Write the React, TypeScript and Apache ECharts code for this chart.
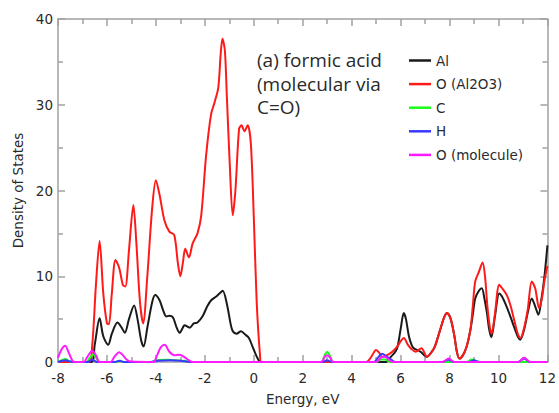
import React, { useEffect, useRef } from "react";
import * as echarts from "echarts";

const seriesNames = ["Al", "O (Al2O3)", "C", "H", "O (molecule)"];
const seriesColors = ["#1a1a1a", "#ff1a1a", "#1aff1a", "#3a3aff", "#ff1aff"];

const alPoints = [[-8,0],[-6.65,0],[-6.5,2],[-6.3,5.1],[-6.15,3],[-5.95,2.0],[-5.8,3.3],[-5.57,4.6],[-5.4,4.0],[-5.27,3.4],[-5.1,5],[-4.89,6.6],[-4.75,5],[-4.6,2.5],[-4.5,1.8],[-4.35,4],[-4.15,7],[-4.03,7.8],[-3.85,7.2],[-3.7,6],[-3.57,5.3],[-3.45,5.4],[-3.3,5.2],[-3.15,4],[-3.03,3.4],[-2.9,4.0],[-2.83,4.3],[-2.62,4.0],[-2.45,4.5],[-2.3,4.6],[-2.08,5.4],[-1.9,6.5],[-1.74,7.2],[-1.55,7.6],[-1.4,8.0],[-1.27,8.3],[-1.1,6.8],[-0.95,4.5],[-0.86,3.6],[-0.7,3.3],[-0.52,3.6],[-0.35,3.2],[-0.2,2.8],[-0.05,1.8],[0.08,0.9],[0.2,0.2],[0.25,0],[5.4,0],[5.6,0.6],[5.73,1.0],[5.86,1.6],[6.0,3.8],[6.13,5.7],[6.22,5],[6.34,3.0],[6.45,2.0],[6.54,1.6],[6.81,1.2],[7.08,0.6],[7.25,1.1],[7.4,1.8],[7.6,3.6],[7.78,5.2],[7.9,5.7],[8.05,5.0],[8.2,3.0],[8.3,1.2],[8.4,0.4],[8.55,0.8],[8.7,1.8],[8.85,3.7],[8.95,5.5],[9.05,7.4],[9.2,8.3],[9.32,8.6],[9.42,7.5],[9.53,5.7],[9.62,3.8],[9.71,2.9],[9.85,5.2],[10.03,8.0],[10.15,7.6],[10.34,6.4],[10.5,5.2],[10.65,4],[10.8,2.9],[10.89,2.6],[11.05,3.8],[11.2,5.8],[11.36,7.4],[11.5,6.5],[11.63,5.5],[11.75,7.2],[11.88,10],[12,13.6]];

const oAl2o3Points = [[-8,0],[-6.75,0],[-6.6,2],[-6.45,9],[-6.3,14.1],[-6.15,8],[-6.0,4.5],[-5.92,4.4],[-5.8,8],[-5.65,11.9],[-5.5,11],[-5.35,9],[-5.25,8.8],[-5.1,13],[-4.92,18.3],[-4.8,14],[-4.65,7],[-4.52,4.5],[-4.35,10],[-4.15,18],[-4.0,21.2],[-3.85,19.5],[-3.65,16.5],[-3.45,15.2],[-3.25,14.8],[-3.1,11.5],[-3.0,10.0],[-2.9,11.5],[-2.8,13.2],[-2.65,12.2],[-2.5,13.8],[-2.3,15],[-2.15,17],[-1.95,24],[-1.75,28.8],[-1.6,30.3],[-1.45,32],[-1.35,36],[-1.28,37.7],[-1.18,36.3],[-1.1,31],[-0.98,23],[-0.86,17.1],[-0.75,20],[-0.6,27.2],[-0.5,27.6],[-0.38,26.9],[-0.25,27.6],[-0.12,25.5],[0.0,17],[0.12,7],[0.25,1],[0.32,0],[4.6,0],[4.8,0.6],[5.0,1.4],[5.12,1.1],[5.25,0.6],[5.45,0.8],[5.66,1.2],[5.86,1.8],[6.0,2.4],[6.13,2.8],[6.3,2.0],[6.45,1.5],[6.61,1.2],[6.85,1.6],[7.08,0.6],[7.25,1.1],[7.4,1.8],[7.6,3.6],[7.78,5.2],[7.9,5.7],[8.05,5.0],[8.2,3.0],[8.3,1.2],[8.4,0.4],[8.55,0.8],[8.7,1.8],[8.85,3.7],[8.95,6.5],[9.05,9.4],[9.2,10.5],[9.35,11.6],[9.45,10],[9.55,6.4],[9.65,4],[9.72,3.3],[9.85,5.5],[10.03,9.0],[10.15,8.6],[10.34,7.8],[10.5,6.5],[10.65,4.8],[10.8,3.2],[10.9,2.8],[11.05,4],[11.2,6.2],[11.36,9.4],[11.5,8.6],[11.66,6.3],[11.78,7.5],[11.88,9.5],[12,11.2]];

const cPoints = [[-8,0],[-7.85,0.2],[-7.7,0.35],[-7.55,0.1],[-7.4,0],[-6.85,0],[-6.7,0.5],[-6.56,0.9],[-6.45,0.5],[-6.3,0],[-5.6,0],[-5.45,0.15],[-5.3,0],[-4.2,0],[-4.0,0.2],[-3.6,0.25],[-3.2,0.2],[-2.8,0.15],[-2.6,0],[2.75,0],[2.9,0.8],[3.0,1.2],[3.12,0.7],[3.25,0],[5.0,0],[5.2,0.3],[5.35,0.3],[5.6,0],[8.7,0],[8.9,0.3],[9.1,0.1],[9.3,0],[12,0]];

const hPoints = [[-8,0],[-7.7,0.2],[-7.4,0],[-6.8,0],[-6.6,0.25],[-6.4,0],[-5.7,0],[-5.5,0.15],[-5.3,0],[-4.2,0],[-3.9,0.15],[-3.4,0.2],[-3.0,0.15],[-2.6,0],[2.8,0],[3.0,0.2],[3.2,0],[4.9,0],[5.1,0.6],[5.25,0.95],[5.4,0.7],[5.6,0.3],[5.8,0],[7.7,0],[7.95,0.25],[8.2,0],[8.8,0],[9.0,0.2],[9.2,0],[10.8,0],[11.03,0.4],[11.3,0],[12,0]];

const oMolPoints = [[-8,0.5],[-7.85,1.5],[-7.71,1.9],[-7.55,1.0],[-7.4,0.1],[-7.3,0],[-6.95,0],[-6.8,0.6],[-6.6,1.3],[-6.45,0.8],[-6.3,0],[-5.85,0],[-5.7,0.6],[-5.5,1.15],[-5.35,0.8],[-5.2,0.3],[-5.0,0.05],[-4.1,0],[-3.95,0.8],[-3.8,1.7],[-3.64,2.0],[-3.45,1.2],[-3.25,0.8],[-3.03,0.85],[-2.85,0.6],[-2.6,0.1],[-2.5,0],[2.75,0],[2.9,0.6],[3.0,0.8],[3.12,0.5],[3.25,0],[5.0,0],[5.2,0.5],[5.35,0.6],[5.55,0.2],[5.7,0],[7.7,0],[7.97,0.4],[8.2,0],[10.8,0],[11.05,0.5],[11.3,0],[12,0]];

const allPoints = [alPoints, oAl2o3Points, cPoints, hPoints, oMolPoints];
const annotationLines = ["(a) formic acid", "(molecular via", "C=O)"];

const axisGray = "#a0a0a0";
const tickFont = "DejaVu Sans";
const textColor = "#2a2a2a";

export default function App() {
  const ref = useRef<HTMLDivElement>(null);
  useEffect(() => {
    if (!ref.current) return;
    const chart = echarts.init(ref.current, null, { renderer: "svg" });
    const tickCommon = {
      axisLine: { show: true, onZero: false, lineStyle: { color: axisGray, width: 1.5 } },
      axisTick: { show: true, inside: true, length: 7, lineStyle: { color: axisGray, width: 1.5 } },
      minorTick: { show: true, splitNumber: 2, length: 5, lineStyle: { color: axisGray, width: 1.5 } },
      splitLine: { show: false },
      minorSplitLine: { show: false },
    };
    chart.setOption({
      animation: false,
      backgroundColor: "#ffffff",
      grid: { left: 58, right: 10, top: 19, bottom: 51, containLabel: false },
      legend: {
        orient: "vertical",
        left: 404,
        top: 47,
        icon: "rect",
        itemWidth: 22,
        itemHeight: 2.5,
        itemGap: 6.6,
        data: seriesNames,
        textStyle: { fontFamily: tickFont, fontSize: 13.5, color: textColor, lineHeight: 17 },
      },
      xAxis: [
        {
          type: "value", min: -8, max: 12, interval: 2, position: "bottom",
          ...tickCommon,
          axisLabel: { fontFamily: tickFont, fontSize: 13.5, color: textColor, margin: 9 },
          name: "Energy, eV", nameLocation: "middle", nameGap: 30,
          nameTextStyle: { fontFamily: tickFont, fontSize: 13.5, color: textColor },
        },
        {
          type: "value", min: -8, max: 12, interval: 2, position: "top",
          ...tickCommon, axisLabel: { show: false },
        },
      ],
      yAxis: [
        {
          type: "value", min: 0, max: 40, interval: 10, position: "left",
          ...tickCommon,
          axisLabel: { fontFamily: tickFont, fontSize: 13.5, color: textColor, margin: 5 },
          name: "Density of States", nameLocation: "middle", nameGap: 32,
          nameTextStyle: { fontFamily: tickFont, fontSize: 13.5, color: textColor },
        },
        {
          type: "value", min: 0, max: 40, interval: 10, position: "right",
          ...tickCommon, axisLabel: { show: false },
        },
      ],
      graphic: annotationLines.map((t, i) => ({
        type: "text",
        x: 257,
        y: 60 + i * 23.5,
        style: { text: t, font: "19px 'Open Sans'", fill: textColor, verticalAlign: "middle" },
      })),
      series: seriesNames.map((n, i) => ({
        name: n,
        type: "line",
        data: allPoints[i],
        symbol: "none",
        smooth: 0.3,
        lineStyle: { color: seriesColors[i], width: 2 },
        itemStyle: { color: seriesColors[i] },
        xAxisIndex: 0,
        yAxisIndex: 0,
      })),
    });
    return () => chart.dispose();
  }, []);
  return <div ref={ref} style={{ width: 559, height: 413, position: "absolute", left: 0, top: 0 }} />;
}
